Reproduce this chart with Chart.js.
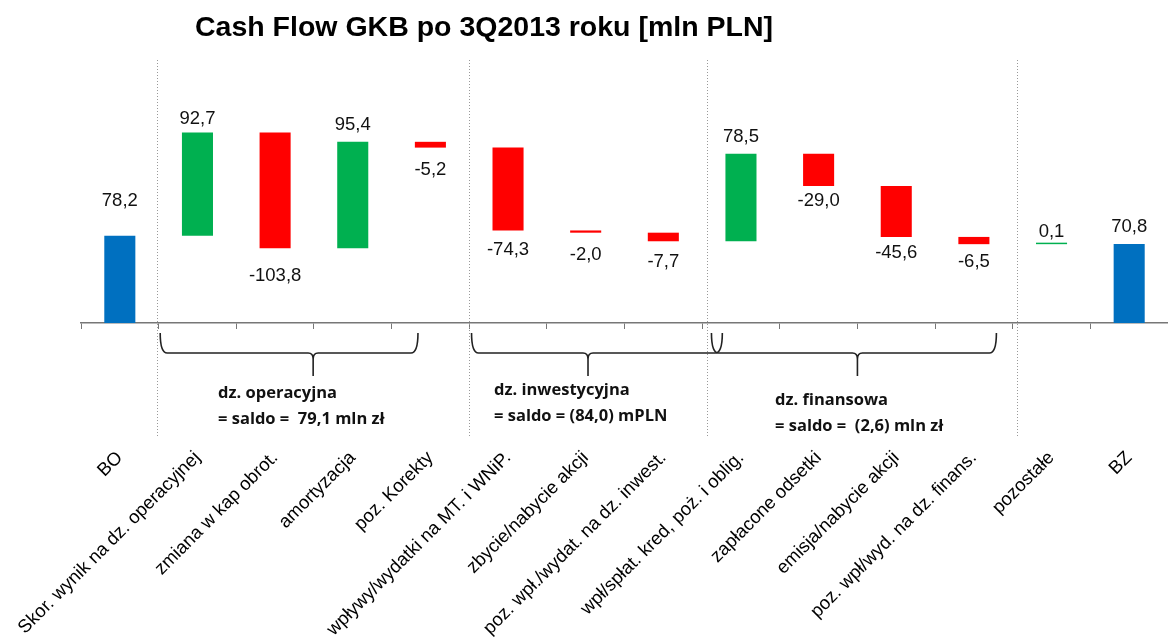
<!DOCTYPE html>
<html>
<head>
<meta charset="utf-8">
<script src="https://cdn.jsdelivr.net/npm/chart.js@4/dist/chart.umd.min.js"></script>
<style>
  html, body { margin: 0; padding: 0; background: #fff; }
  #wrap { width: 1168px; height: 643px; }
</style>
</head>
<body>
<div id="wrap"><canvas id="cfChart"></canvas></div>
<script>
// categories and values
const categories = [
    'BO', 'Skor. wynik na dz. operacyjnej', 'zmiana w kap obrot.', 'amortyzacja', 'poz. Korekty',
    'wpływy/wydatki na MT. i WNiP.', 'zbycie/nabycie akcji', 'poz. wpł./wydat. na dz. inwest.',
    'wpł/spłat. kred, poż. i oblig.', 'zapłacone odsetki', 'emisja/nabycie akcji',
    'poz. wpł/wyd. na dz. finans.', 'pozostałe', 'BZ'
];
const changes = [78.2, 92.7, -103.8, 95.4, -5.2, -74.3, -2.0, -7.7, 78.5, -29.0, -45.6, -6.5, 0.1, 70.8];
const isTotal = [true, false, false, false, false, false, false, false, false, false, false, false, false, true];

// section notes under the axis
const sectionTitles = ['dz. operacyjna', 'dz. inwestycyjna', 'dz. finansowa'];
const sectionSaldo = ['= saldo =  79,1 mln zł', '= saldo = (84,0) mPLN', '= saldo =  (2,6) mln zł'];

// build floating bars
let run = 0;
const floats = changes.map(function (v, i) {
    if (isTotal[i]) { run = v; return [0, v]; }
    const start = run;
    run = Math.round((run + v) * 10) / 10;
    return [start, run];
});
const colors = changes.map(function (v, i) {
    if (isTotal[i]) return '#0070C0';
    return v >= 0 ? '#00B050' : '#FF0000';
});

function fmt(v) {
    return v.toFixed(1).replace('.', ',');
}

const decorPlugin = {
    id: 'decor',
    afterDatasetsDraw(chart) {
        const ctx = chart.ctx;
        const xs = chart.scales.x;
        const px = function (v) { return xs.getPixelForValue(v); };

        // value labels (gap between bar end and text, as placed in the original)
        const gaps = [30, 8, 19, 12, 14, 11, 14, 12, 12, 6, 8, 9, 6, 12];
        const meta = chart.getDatasetMeta(0);
        ctx.save();
        ctx.font = '18.5px "Liberation Sans", Arial, sans-serif';
        ctx.fillStyle = '#111';
        ctx.textAlign = 'center';
        ctx.textBaseline = 'alphabetic';
        meta.data.forEach(function (bar, i) {
            const top = Math.min(bar.y, bar.base);
            const bottom = Math.max(bar.y, bar.base);
            if (changes[i] >= 0) {
                ctx.fillText(fmt(changes[i]), bar.x, top - gaps[i]);
            } else {
                ctx.fillText(fmt(changes[i]), bar.x, bottom + gaps[i] + 13.5);
            }
        });
        ctx.restore();

        // dotted separators
        ctx.save();
        ctx.strokeStyle = '#999';
        ctx.lineWidth = 1;
        ctx.setLineDash([1, 2]);
        [0.48, 4.5, 7.56, 11.55].forEach(function (v) {
            const x = Math.round(px(v)) + 0.5;
            ctx.beginPath();
            ctx.moveTo(x, 60);
            ctx.lineTo(x, 438);
            ctx.stroke();
        });
        ctx.restore();

        // braces
        const braces = [[0.52, 2.49, 3.84], [4.53, 6.03, 7.76], [7.62, 9.5, 11.29]];
        ctx.save();
        ctx.strokeStyle = '#222';
        ctx.lineWidth = 1.6;
        const yT = 333, yH = 353, yB = 376;
        braces.forEach(function (b) {
            const x1 = px(b[0]), xm = px(b[1]), x2 = px(b[2]);
            ctx.beginPath();
            ctx.moveTo(x1, yT);
            ctx.quadraticCurveTo(x1, yH, x1 + 7, yH);
            ctx.lineTo(xm - 5, yH);
            ctx.quadraticCurveTo(xm, yH, xm, yH + 6);
            ctx.lineTo(xm, yB);
            ctx.moveTo(xm, yH + 6);
            ctx.quadraticCurveTo(xm, yH, xm + 5, yH);
            ctx.lineTo(x2 - 7, yH);
            ctx.quadraticCurveTo(x2, yH, x2, yT);
            ctx.stroke();
        });
        ctx.restore();

        // section notes
        const notePos = [[218, 393], [494, 390], [775, 400]];
        ctx.save();
        ctx.font = 'bold 16.5px "Open Sans", sans-serif';
        ctx.fillStyle = '#111';
        ctx.textAlign = 'left';
        ctx.textBaseline = 'middle';
        notePos.forEach(function (p, i) {
            ctx.fillText(sectionTitles[i], p[0], p[1]);
            ctx.fillText(sectionSaldo[i], p[0], p[1] + 26);
        });
        ctx.restore();

        // title
        ctx.save();
        ctx.font = 'bold 28.5px "Liberation Sans", Arial, sans-serif';
        ctx.fillStyle = '#000';
        ctx.textAlign = 'center';
        ctx.textBaseline = 'middle';
        ctx.fillText('Cash Flow GKB po 3Q2013 roku [mln PLN]', 484, 28);
        ctx.restore();
    }
};

const ctx = document.getElementById('cfChart').getContext('2d');

new Chart(ctx, {
    type: 'bar',
    data: {
        labels: categories,
        datasets: [{
            data: floats,
            backgroundColor: colors,
            borderWidth: 0,
            categoryPercentage: 1,
            barPercentage: 0.4,
            minBarLength: 1.5
        }]
    },
    options: {
        responsive: true,
        maintainAspectRatio: false,
        animation: false,
        layout: {
            padding: { left: 81, right: 0, top: 100, bottom: 0 }
        },
        plugins: {
            legend: { display: false },
            tooltip: { enabled: false }
        },
        scales: {
            x: {
                afterFit: function (scale) {
                    scale.height = 320;
                    scale.paddingLeft = 0;
                    scale.paddingRight = 0;
                },
                border: { color: '#777', width: 1.5 },
                grid: {
                    display: true,
                    drawOnChartArea: false,
                    drawTicks: true,
                    tickLength: 6,
                    color: '#777'
                },
                ticks: {
                    autoSkip: false,
                    maxRotation: 45,
                    minRotation: 45,
                    padding: 118,
                    color: '#000',
                    font: { family: '"Liberation Sans", Arial, sans-serif', size: 18.5 }
                }
            },
            y: {
                display: false,
                min: 0,
                max: 200
            }
        }
    },
    plugins: [decorPlugin]
});
</script>
</body>
</html>
